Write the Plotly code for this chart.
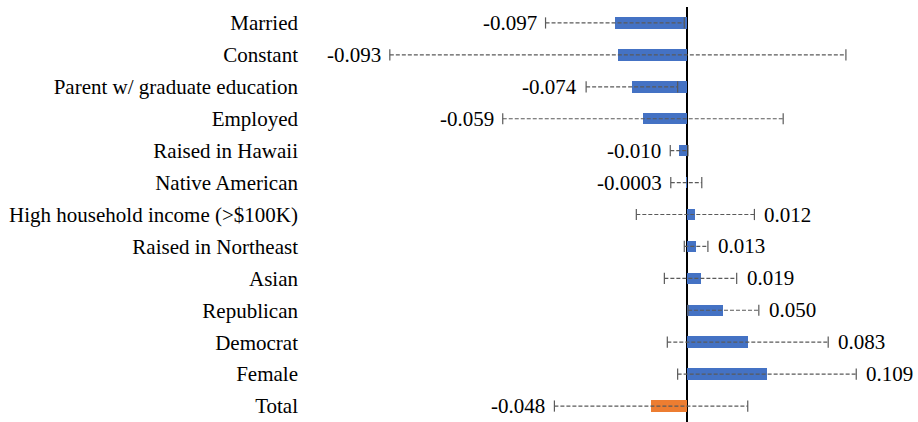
import plotly.graph_objects as go

# Regression coefficients with their margins of error
categories = [
    "Married", "Constant", "Parent w/ graduate education", "Employed",
    "Raised in Hawaii", "Native American", "High household income (>$100K)",
    "Raised in Northeast", "Asian", "Republican", "Democrat", "Female", "Total",
]
coef_labels = [
    "-0.097", "-0.093", "-0.074", "-0.059", "-0.010", "-0.0003", "0.012",
    "0.013", "0.019", "0.050", "0.083", "0.109", "-0.048",
]
coefficients = [float(s) for s in coef_labels]
margins = [0.094, 0.309, 0.062, 0.190, 0.012, 0.021, 0.080,
           0.016, 0.049, 0.048, 0.109, 0.121, 0.131]

BLUE = "#4472C4"
ORANGE = "#ED7D31"
ERR = "#5a5a5a"
FONT = "Liberation Serif"

bar_colors = [ORANGE if c == "Total" else BLUE for c in categories]

W, H = 918, 422
ML, MR, MT, MB = 305, 6, 7, 0
ZERO_PX = 686.5
PX_PER_UNIT = 738.0
x_range = [(ML - ZERO_PX) / PX_PER_UNIT, (W - MR - ZERO_PX) / PX_PER_UNIT]

fig = go.Figure()

fig.add_trace(go.Bar(
    y=categories, x=coefficients, orientation="h",
    marker=dict(color=bar_colors, line=dict(width=0)),
    width=0.36, showlegend=False, hoverinfo="x+y",
))

# dashed confidence intervals with end caps
ex, ey = [], []
for cat, c, m in zip(categories, coefficients, margins):
    ex += [c - m, c + m, None]
    ey += [cat, cat, None]
fig.add_trace(go.Scatter(
    x=ex, y=ey, mode="lines+markers",
    line=dict(color=ERR, width=1.2, dash="4px,2px"),
    marker=dict(symbol="line-ns", size=8, line=dict(color=ERR, width=1.2)),
    showlegend=False, hoverinfo="skip", cliponaxis=False,
))

# value labels just beyond the interval end on the side of the sign
for cat, c, m, lab in zip(categories, coefficients, margins, coef_labels):
    if c < 0:
        fig.add_annotation(x=c - m, y=cat, text=lab, showarrow=False,
                           xanchor="right", xshift=-7,
                           font=dict(family=FONT, size=21, color="black"))
    else:
        fig.add_annotation(x=c + m, y=cat, text=lab, showarrow=False,
                           xanchor="left", xshift=8,
                           font=dict(family=FONT, size=21, color="black"))

fig.update_layout(
    width=W, height=H,
    margin=dict(l=ML, r=MR, t=MT, b=MB),
    paper_bgcolor="white", plot_bgcolor="white",
    font=dict(family=FONT, size=21, color="black"),
    bargap=0,
    xaxis=dict(range=x_range, showgrid=False, showticklabels=False,
               zeroline=True, zerolinecolor="black", zerolinewidth=2,
               showline=False, ticks=""),
    yaxis=dict(categoryorder="array", categoryarray=categories,
               range=[len(categories) - 0.5, -0.5],
               showgrid=False, zeroline=False, showline=False, ticks="",
               ticklabelstandoff=6,
               tickfont=dict(family=FONT, size=21, color="black")),
)

fig.write_html("out.html")
